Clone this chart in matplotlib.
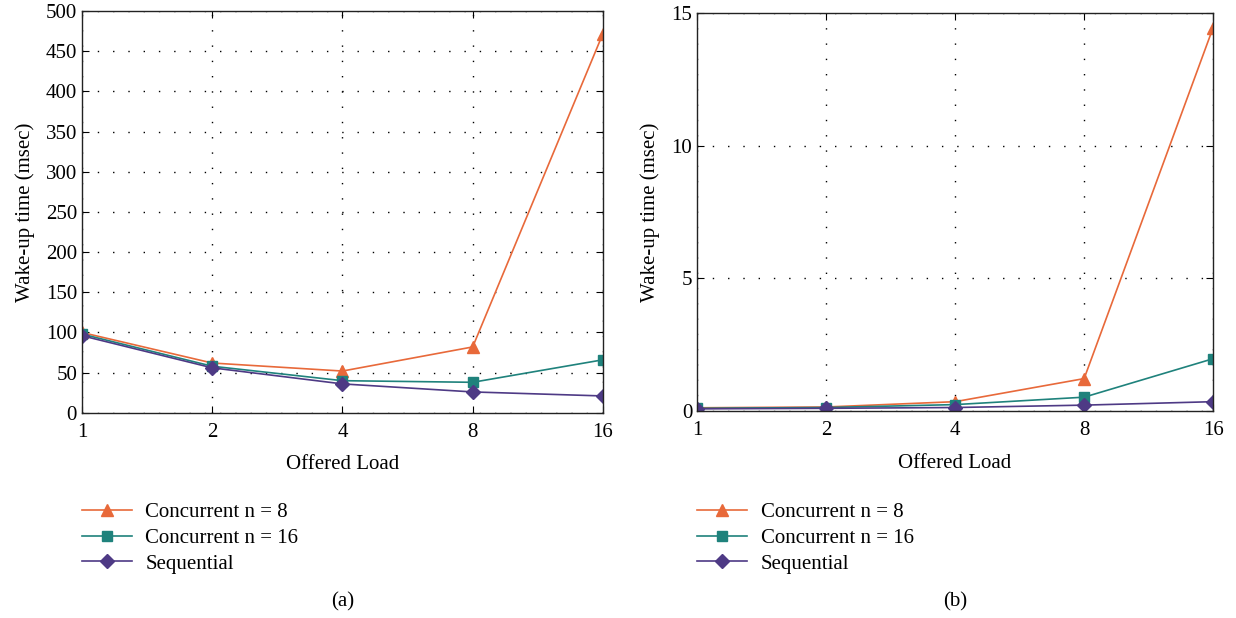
import matplotlib.pyplot as plt
from matplotlib.ticker import FixedLocator, FixedFormatter

plt.rcParams["font.family"] = ["Liberation Serif", "DejaVu Serif"]
plt.rcParams["font.size"] = 15

offered_load = [1, 2, 4, 8, 16]
load_labels = ["1", "2", "4", "8", "16"]

# panel (a)
conc8_a = [100, 62, 52, 82, 472]
conc16_a = [98, 58, 40, 38, 66]
seq_a = [96, 56, 36, 26, 21]

# panel (b)
conc8_b = [0.12, 0.15, 0.35, 1.22, 14.45]
conc16_b = [0.1, 0.13, 0.24, 0.52, 1.97]
seq_b = [0.08, 0.1, 0.13, 0.22, 0.35]

series_names = ["Concurrent n = 8", "Concurrent n = 16", "Sequential"]
colors = ["#E8693A", "#1F827C", "#4E3A85"]
markers = ["^", "s", "D"]
marker_sizes = [9, 6.5, 7]

fig = plt.figure(figsize=(12.36, 6.18), dpi=100)
ax_a = fig.add_axes([0.0663, 0.332, 0.4215, 0.650])
ax_b = fig.add_axes([0.564, 0.335, 0.4175, 0.644])

panels = [
    (ax_a, [conc8_a, conc16_a, seq_a], 500, [0, 50, 100, 150, 200, 250, 300, 350, 400, 450, 500], "(a)"),
    (ax_b, [conc8_b, conc16_b, seq_b], 15, [0, 5, 10, 15], "(b)"),
]

for ax, data, ymax, yticks, tag in panels:
    for vals, name, c, m, ms in zip(data, series_names, colors, markers, marker_sizes):
        ax.plot(offered_load, vals, color=c, marker=m, markersize=ms, linewidth=1.2, label=name)
    ax.set_xscale("log", base=2)
    ax.set_xlim(1, 16)
    ax.set_ylim(0, ymax)
    ax.xaxis.set_major_locator(FixedLocator(offered_load))
    ax.xaxis.set_major_formatter(FixedFormatter(load_labels))
    ax.xaxis.set_minor_locator(FixedLocator([]))
    ax.set_yticks(yticks)
    ax.grid(True, linestyle=(0, (1, 10)), color="black", linewidth=1.0)
    ax.tick_params(direction="in", top=True, right=True, length=5, labelsize=15)
    ax.tick_params(axis="x", pad=7)
    for s in ax.spines.values():
        s.set_linewidth(1.0)
        s.set_color("#222222")
    ax.set_xlabel("Offered Load", fontsize=15, labelpad=10)
    ax.set_ylabel("Wake-up time (msec)", fontsize=15, labelpad=8)
    pos = ax.get_position()
    ax.legend(loc="upper left", bbox_to_anchor=(pos.x0, 0.187), bbox_transform=fig.transFigure,
              frameon=False, handlelength=2.4, labelspacing=0.3, borderaxespad=0, borderpad=0,
              fontsize=15, handletextpad=0.65)
    fig.text(pos.x0 + pos.width / 2, 0.01, tag, ha="center", va="bottom", fontsize=15)

fig.savefig("out.png", dpi=100)
